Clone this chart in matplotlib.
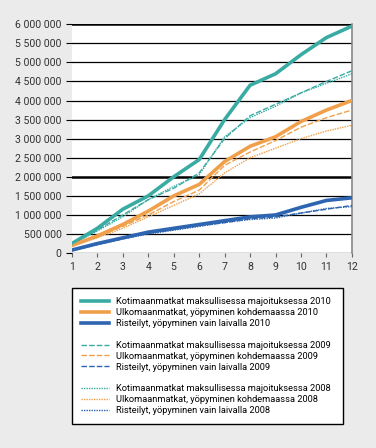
import matplotlib
matplotlib.use('Agg')
import matplotlib.pyplot as plt
from matplotlib.lines import Line2D
from matplotlib.ticker import FuncFormatter

# kuukaudet
months = list(range(1, 13))

# kumulatiiviset matkat, 2010
koti_2010 = [250000, 650000, 1150000, 1500000, 2000000, 2450000, 3500000, 4400000, 4700000, 5200000, 5650000, 5950000]
ulko_2010 = [200000, 450000, 750000, 1100000, 1500000, 1800000, 2400000, 2800000, 3050000, 3450000, 3750000, 4000000]
ris_2010 = [80000, 250000, 400000, 550000, 650000, 750000, 850000, 950000, 1000000, 1200000, 1380000, 1450000]

# 2009
koti_2009 = [250000, 600000, 1000000, 1400000, 1700000, 2100000, 3000000, 3600000, 3900000, 4200000, 4500000, 4780000]
ulko_2009 = [200000, 420000, 700000, 1000000, 1350000, 1650000, 2300000, 2650000, 2950000, 3300000, 3550000, 3750000]
ris_2009 = [70000, 230000, 380000, 520000, 620000, 720000, 800000, 900000, 950000, 1050000, 1150000, 1250000]

# 2008
koti_2008 = [230000, 580000, 950000, 1400000, 1750000, 2050000, 3050000, 3550000, 3850000, 4200000, 4450000, 4700000]
ulko_2008 = [180000, 400000, 650000, 950000, 1250000, 1550000, 2100000, 2500000, 2750000, 3000000, 3200000, 3350000]
ris_2008 = [60000, 220000, 370000, 500000, 600000, 700000, 800000, 880000, 920000, 1050000, 1170000, 1220000]

labels_koti = 'Kotimaanmatkat maksullisessa majoituksessa'
labels_ulko = 'Ulkomaanmatkat, yöpyminen kohdemaassa'
labels_ris = 'Risteilyt, yöpyminen vain laivalla'

teal = '#3aaba3'
orange = '#f0a04b'
blue = '#2d65b0'

plt.rcParams['font.family'] = ['Roboto', 'DejaVu Sans']

fig = plt.figure(figsize=(3.76, 4.48), dpi=100, facecolor='#ebebeb')
ax = fig.add_axes([0.191, 0.435, 0.745, 0.511])
ax.set_facecolor('white')

# vaakaviivat
for v in range(0, 6000001, 500000):
    lw = 1.8 if v in (2000000, 6000000) else 0.9
    ax.axhline(v, color='black', lw=lw, zorder=1)

styles = {
    2010: dict(lw=2.6, ls='-'),
    2009: dict(lw=1.0, ls=(0, (4, 1.5))),
    2008: dict(lw=1.0, ls=(0, (1, 0.8))),
}
series = [
    (2010, koti_2010, ulko_2010, ris_2010),
    (2009, koti_2009, ulko_2009, ris_2009),
    (2008, koti_2008, ulko_2008, ris_2008),
]
for year, k, u, r in series:
    st = styles[year]
    ax.plot(months, k, color=teal, zorder=3, **st)
    ax.plot(months, u, color=orange, zorder=3, **st)
    ax.plot(months, r, color=blue, zorder=3, **st)

ax.set_xlim(1, 12)
ax.set_ylim(0, 6000000)
ax.set_xticks(months)
ax.set_yticks(range(0, 6000001, 500000))
ax.yaxis.set_major_formatter(FuncFormatter(lambda v, p: f'{int(v):,}'.replace(',', ' ')))
ax.tick_params(axis='both', labelsize=7.6, labelcolor='#333333', length=3, width=0.8, color='#666666')
ax.tick_params(axis='y', length=4, color='black')
for s in ['left', 'top', 'bottom']:
    ax.spines[s].set_visible(False)
ax.spines['right'].set_color('#888888')
ax.spines['right'].set_linewidth(1.2)

# selite
handles = []
names = []
blank = Line2D([], [], lw=0, alpha=0)
for i, (year, k, u, r) in enumerate(series):
    st = styles[year]
    for col, lab in [(teal, labels_koti), (orange, labels_ulko), (blue, labels_ris)]:
        handles.append(Line2D([], [], color=col, **st))
        names.append(f'{lab} {year}')
    if i < 2:
        handles.append(blank)
        names.append('')

fig.legend(handles, names, loc='upper left', bbox_to_anchor=(0.191, 0.047, 0.72, 0.31),
           mode='expand', borderaxespad=0, fontsize=6.7, frameon=True, fancybox=False,
           edgecolor='black', facecolor='white', handlelength=3.0, labelspacing=0.2,
           borderpad=1.0, handletextpad=0.8, framealpha=1)

fig.savefig('out.png', dpi=100, facecolor=fig.get_facecolor())
